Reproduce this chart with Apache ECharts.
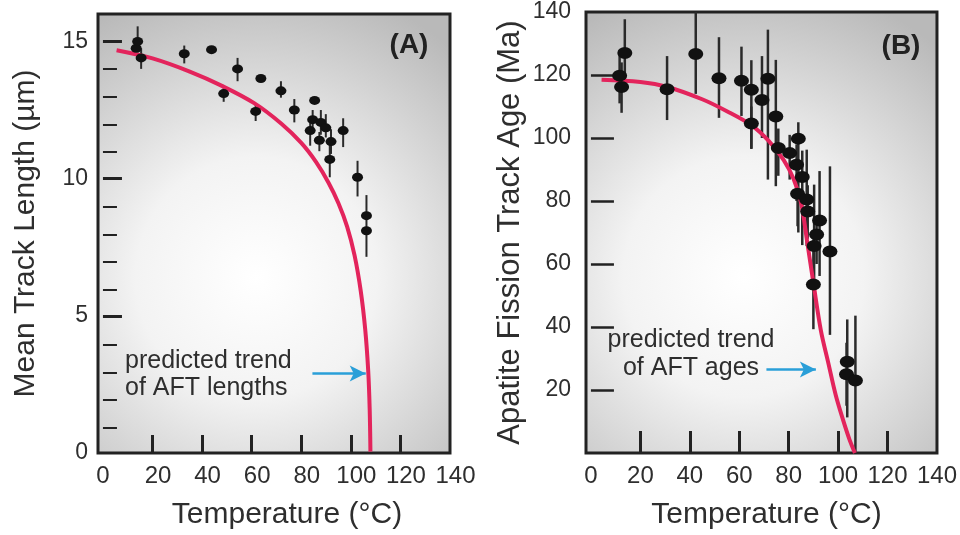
<!DOCTYPE html>
<html>
<head>
<meta charset="utf-8">
<script src="https://cdn.jsdelivr.net/npm/echarts@6.0.0/dist/echarts.min.js"></script>
<style>
html, body { margin: 0; padding: 0; background: #fff; }
#main { width: 960px; height: 535px; }
</style>
</head>
<body>
<div id="main"></div>
<script>
// panel A : mean track length vs temperature
var aTemp  = [13.4, 14.0, 15.4, 32.8, 43.8, 48.7, 54.3, 61.6, 63.7, 71.8, 77.2, 83.6, 84.6, 85.4, 87.3, 87.9, 89.9, 91.5, 92.0, 96.9, 102.7, 106.3, 106.3];
var aLen   = [14.75, 15.0, 14.4, 14.55, 14.7, 13.1, 14.0, 12.45, 13.65, 13.2, 12.5, 11.75, 12.15, 12.85, 11.4, 12.05, 11.85, 10.7, 11.35, 11.75, 10.05, 8.65, 8.1];
var aLenLo = [null, 14.6, 14.0, 14.2, null, 12.8, 13.55, 12.1, null, 12.95, 12.05, 11.2, 11.8, null, 11.0, 11.6, 11.5, 10.05, 10.9, 11.15, 9.35, 7.15, null];
var aLenHi = [null, 15.55, 14.75, 14.85, null, 13.4, 14.4, 12.75, null, 13.55, 12.9, 12.2, 12.5, null, 11.7, 12.5, 12.35, 11.3, 11.8, 12.2, 10.65, 9.4, null];
var aCurveT = [5.5, 20, 35, 48, 61, 72, 80, 86, 91, 95, 98.5, 101.5, 104, 105.8, 107, 107.6, 107.9];
var aCurveL = [14.68, 14.38, 13.9, 13.38, 12.75, 12.0, 11.3, 10.6, 9.85, 9.1, 8.25, 7.2, 5.9, 4.5, 3.0, 1.6, 0.05];

// panel B : apatite fission track age vs temperature
var bTemp  = [11.6, 12.4, 13.7, 30.8, 42.4, 51.8, 60.9, 64.9, 64.9, 69.2, 71.6, 74.8, 75.8, 80.4, 83.9, 83.2, 85.5, 83.6, 87.3, 87.7, 92.5, 91.3, 90.3, 96.7, 90.0, 103.7, 103.4, 107.0];
var bAge   = [119.8, 116.2, 127.0, 115.5, 126.7, 119.0, 118.2, 115.3, 104.6, 112.1, 118.8, 106.8, 96.8, 95.2, 99.8, 91.5, 87.6, 82.3, 80.5, 76.7, 73.8, 69.4, 65.7, 64.0, 53.5, 29.0, 25.0, 23.0];
var bAgeLo = [111, 108, 115, 105.7, 114, 106.4, 107, 96.7, 96.5, 100, 86.8, 84.7, 88, 86.8, 70, 80, 66, 72, 65.7, 68, 56.2, 60, 53.5, 37.5, 39.3, 11.3, 15, 0.2];
var bAgeHi = [128, 124, 137.7, 126, 140, 132, 129, 124.7, 110, 126, 134.4, 124.8, 103, 101, 105, 98, 96, 88, 96.3, 85, 89.5, 75, 85.2, 91, 67.8, 42.4, 35, 43.6];
var bCurveT   = [4.3, 20, 31, 45, 55, 65, 72, 78, 82, 85, 87.5, 90, 93, 96, 99, 102, 104.5, 106.8];
var bCurveAge = [118.5, 117.8, 116.2, 112.3, 108.5, 104, 99, 93, 87, 79.5, 67, 54, 39, 28.7, 18.5, 10.5, 4.5, 0];

var xLabels = [0, 20, 40, 60, 80, 100, 120, 140];
var xTickVals = [20, 40, 60, 80, 100, 120];
var aYLabels = [0, 5, 10, 15];
var aYMajor = [5, 10, 15];
var aYMinor = [1, 2, 3, 4, 6, 7, 8, 9, 11, 12, 13, 14];
var bYLabels = [20, 40, 60, 80, 100, 120, 140];
var bYTicks = [20, 40, 60, 80, 100, 120];

var FONT = 'Liberation Sans, Arial, sans-serif';
var TXT = '#2e2e2e';
var RED = '#e3245c';
var BLUE = '#2a9fd8';

function zip(a, b) {
	return a.map(function (v, i) { return [v, b[i]]; });
}
function bars(x, lo, hi) {
	var out = [];
	x.forEach(function (v, i) {
		if (lo[i] != null) out.push([v, lo[i], hi[i]]);
	});
	return out;
}
function errBar(w) {
	return function (params, api) {
		var p1 = api.coord([api.value(0), api.value(1)]);
		var p2 = api.coord([api.value(0), api.value(2)]);
		return {
			type: 'line',
			shape: { x1: p1[0], y1: p1[1], x2: p2[0], y2: p2[1] },
			style: { stroke: '#2a2a2a', lineWidth: w }
		};
	};
}

var bg = {
	type: 'radial', x: 0.45, y: 0.6, r: 0.85,
	colorStops: [
		{ offset: 0, color: '#ffffff' },
		{ offset: 0.4, color: '#f3f3f3' },
		{ offset: 1, color: '#b9b9b9' }
	]
};

function xAxisFor(idx, tickLen, namePad) {
	return {
		gridIndex: idx, type: 'value', min: -2, max: 140,
		axisLine: { show: false },
		splitLine: { show: false },
		axisTick: { inside: true, length: tickLen, customValues: xTickVals, lineStyle: { color: '#222', width: 3 } },
		axisLabel: { customValues: xLabels, fontSize: 24, color: TXT, margin: 11, fontFamily: FONT },
		name: 'Temperature (°C)', nameLocation: 'middle', nameGap: 47,
		nameTextStyle: { fontSize: 30, color: TXT, fontFamily: FONT, padding: [0, 0, 0, namePad] }
	};
}

var xA = xAxisFor(0, 18, 26);
// labels of panel A sit a little right of their ticks
xA.axisLabel.formatter = function (v) {
	return v === 0 ? '{z|0}' : '{n|' + v + '}';
};
xA.axisLabel.rich = {
	z: { fontSize: 24, color: TXT, fontFamily: FONT },
	n: { fontSize: 24, color: TXT, fontFamily: FONT, padding: [0, 0, 0, 11] }
};

var option = {
	animation: false,
	backgroundColor: '#fff',
	grid: [
		{ left: 98, right: 510, top: 14, bottom: 80, show: true, backgroundColor: bg, borderColor: '#222', borderWidth: 3 },
		{ left: 586, right: 21, top: 12, bottom: 81, show: true, backgroundColor: bg, borderColor: '#222', borderWidth: 3 },
		// same box as A, only carries the minor ticks
		{ left: 98, right: 510, top: 14, bottom: 80 }
	],
	xAxis: [
		xA,
		xAxisFor(1, 22, 10),
		{ gridIndex: 2, type: 'value', min: -2, max: 140, show: false }
	],
	yAxis: [
		{
			gridIndex: 0, type: 'value', min: 0, max: 16,
			axisLine: { show: false },
			splitLine: { show: false },
			axisTick: { inside: true, length: 19, customValues: aYMajor, lineStyle: { color: '#222', width: 3 } },
			axisLabel: { customValues: aYLabels, fontSize: 23, color: TXT, margin: 10, fontFamily: FONT },
			name: 'Mean Track Length (µm)', nameLocation: 'middle', nameGap: 57,
			nameTextStyle: { fontSize: 30, color: TXT, fontFamily: FONT }
		},
		{
			gridIndex: 1, type: 'value', min: 0, max: 140,
			axisLine: { show: false },
			splitLine: { show: false },
			axisTick: { inside: true, length: 23, customValues: bYTicks, lineStyle: { color: '#222', width: 2.5 } },
			axisLabel: { customValues: bYLabels, fontSize: 23, color: TXT, margin: 15, fontFamily: FONT },
			name: 'Apatite Fission Track Age (Ma)', nameLocation: 'middle', nameGap: 60,
			nameTextStyle: { fontSize: 31, color: TXT, fontFamily: FONT }
		},
		{
			gridIndex: 2, type: 'value', min: 0, max: 16,
			axisLine: { show: false },
			splitLine: { show: false },
			axisTick: { inside: true, length: 14, customValues: aYMinor, lineStyle: { color: '#222', width: 2 } },
			axisLabel: { show: false }
		}
	],
	series: [
		{
			type: 'custom', xAxisIndex: 0, yAxisIndex: 0,
			renderItem: errBar(2), encode: { x: 0, y: [1, 2] },
			data: bars(aTemp, aLenLo, aLenHi), z: 2
		},
		{
			type: 'line', xAxisIndex: 0, yAxisIndex: 0,
			data: zip(aCurveT, aCurveL), smooth: 0.35,
			showSymbol: false, lineStyle: { color: RED, width: 4 }, z: 3,
			markLine: {
				silent: true, symbol: ['none', 'arrow'], symbolSize: [12, 16],
				label: { show: false },
				lineStyle: { color: BLUE, width: 2.5, type: 'solid' },
				data: [[{ coord: [84.5, 2.9] }, { coord: [106, 2.9] }]]
			}
		},
		{
			type: 'scatter', xAxisIndex: 0, yAxisIndex: 0,
			data: zip(aTemp, aLen), symbol: 'circle', symbolSize: [11, 9],
			itemStyle: { color: '#111', opacity: 1 }, z: 4
		},
		{
			type: 'custom', xAxisIndex: 1, yAxisIndex: 1,
			renderItem: errBar(2.5), encode: { x: 0, y: [1, 2] },
			data: bars(bTemp, bAgeLo, bAgeHi), z: 2
		},
		{
			type: 'line', xAxisIndex: 1, yAxisIndex: 1,
			data: zip(bCurveT, bCurveAge), smooth: 0.35,
			showSymbol: false, lineStyle: { color: RED, width: 4 }, z: 3,
			markLine: {
				silent: true, symbol: ['none', 'arrow'], symbolSize: [12, 16],
				label: { show: false },
				lineStyle: { color: BLUE, width: 2.5, type: 'solid' },
				data: [[{ coord: [71, 26.5] }, { coord: [91, 26.5] }]]
			}
		},
		{
			type: 'scatter', xAxisIndex: 1, yAxisIndex: 1,
			data: zip(bTemp, bAge), symbol: 'circle', symbolSize: [15, 12],
			itemStyle: { color: '#111', opacity: 1 }, z: 4
		}
	],
	graphic: [
		{ type: 'text', x: 409, y: 45, style: { text: '(A)', font: 'bold 28px ' + FONT, fill: '#222', align: 'center', verticalAlign: 'middle' } },
		{ type: 'text', x: 901, y: 46, style: { text: '(B)', font: 'bold 28px ' + FONT, fill: '#222', align: 'center', verticalAlign: 'middle' } },
		{ type: 'text', x: 125, y: 348, style: { text: 'predicted trend\nof AFT lengths', font: '25px ' + FONT, lineHeight: 27, fill: TXT, align: 'left' } },
		{ type: 'text', x: 691, y: 326, style: { text: 'predicted trend\nof AFT ages', font: '25px ' + FONT, lineHeight: 28, fill: TXT, align: 'center' } }
	]
};

var chart = echarts.init(document.getElementById('main'));
chart.setOption(option);
</script>
</body>
</html>
